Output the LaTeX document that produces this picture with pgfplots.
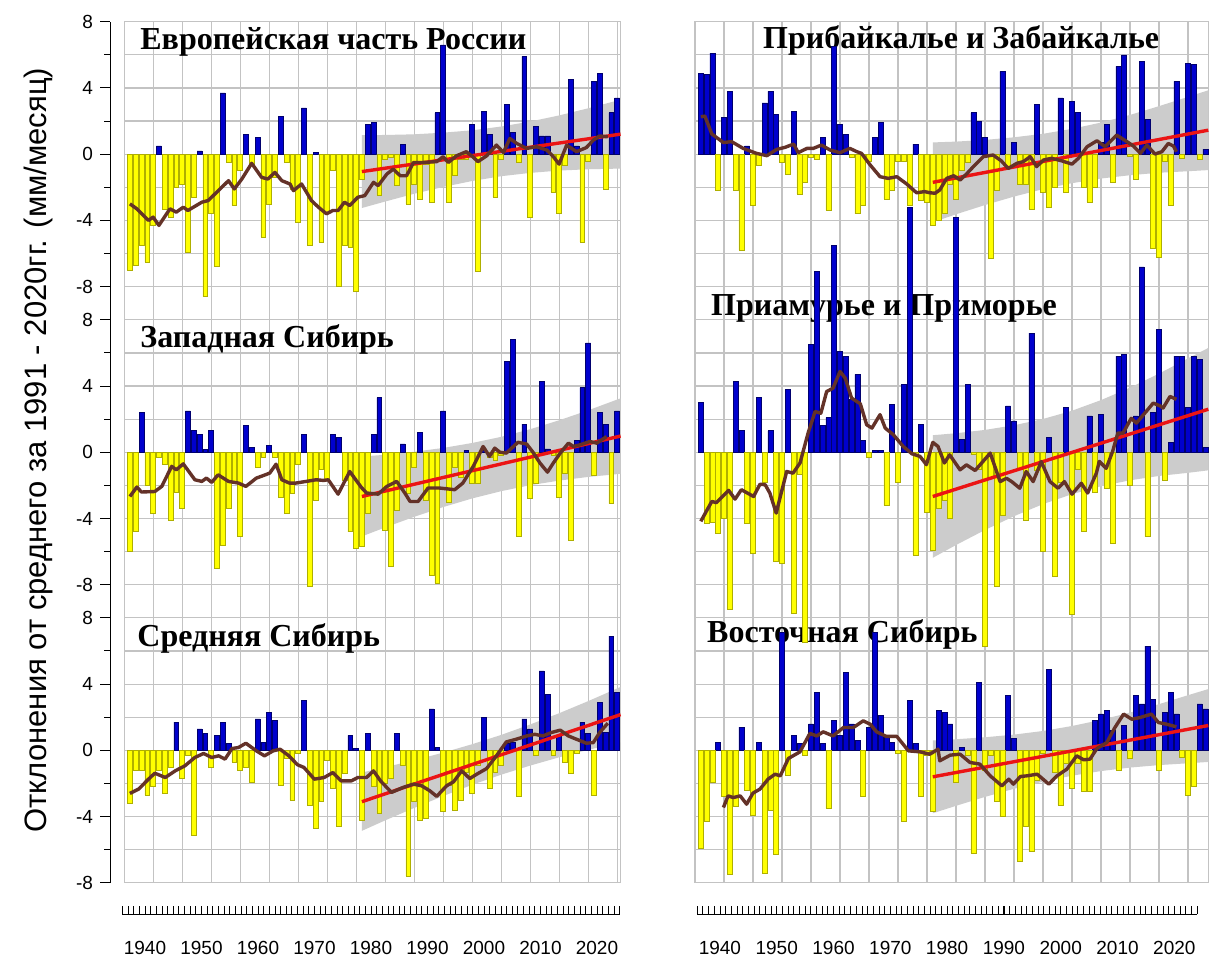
\documentclass[border=0pt]{standalone}
\usepackage{pgfplots}
\pgfplotsset{compat=1.18}
\usepackage{pgfplotstable}
\usepackage{fontspec}
\setmainfont{Liberation Sans}
\newfontfamily\titlefont{Liberation Serif}
\definecolor{barblue}{RGB}{0,0,205}
\definecolor{barbluedk}{RGB}{0,0,110}
\definecolor{baryel}{RGB}{255,255,0}
\definecolor{baryeldk}{RGB}{175,175,0}
\definecolor{bandgray}{RGB}{204,204,204}
\definecolor{gridgray}{RGB}{195,195,195}
\definecolor{trendred}{RGB}{235,20,20}
\definecolor{brownln}{RGB}{100,50,40}

\pgfplotstableread{
year val
1936 -7.0
1937 -6.7
1938 -5.5
1939 -6.5
1940 -4.3
1941 0.5
1942 -3.3
1943 -3.8
1944 -2.0
1945 -1.8
1946 -5.9
1947 -2.6
1948 0.2
1949 -8.6
1950 -3.6
1951 -6.8
1952 3.7
1953 -0.5
1954 -3.1
1955 -1.0
1956 1.2
1957 -0.6
1958 1.0
1959 -5.0
1960 -3.0
1961 -1.4
1962 2.3
1963 -0.5
1964 -2.1
1965 -4.1
1966 2.8
1967 -5.5
1968 0.1
1969 -5.3
1970 -3.6
1971 -1.0
1972 -8.0
1973 -5.5
1974 -5.6
1975 -8.3
1976 -1.5
1977 1.8
1978 1.9
1979 -2.5
1980 -0.3
1981 -0.2
1982 -1.9
1983 0.6
1984 -3.0
1985 -1.8
1986 -2.7
1987 -0.6
1988 -2.9
1989 2.5
1990 6.6
1991 -2.9
1992 -1.3
1993 -0.3
1994 -0.3
1995 1.8
1996 -7.1
1997 2.6
1998 1.2
1999 -2.6
2000 -0.3
2001 3.0
2002 1.3
2003 -0.5
2004 5.9
2005 -3.8
2006 1.7
2007 1.1
2008 1.1
2009 -2.3
2010 -3.6
2011 -0.7
2012 4.5
2013 0.5
2014 -5.3
2015 -0.4
2016 4.4
2017 4.9
2018 -2.1
2019 2.5
2020 3.4
}\dataA

\pgfplotstableread{
year val
1936 -6.0
1937 -4.8
1938 2.4
1939 -2.0
1940 -3.7
1941 -0.3
1942 -0.7
1943 -4.1
1944 -2.4
1945 -3.4
1946 2.5
1947 1.3
1948 1.1
1949 0.15
1950 1.3
1951 -7.0
1952 -5.6
1953 -3.4
1954 -1.8
1955 -5.1
1956 1.6
1957 0.3
1958 -0.9
1959 -0.3
1960 0.4
1961 -0.3
1962 -2.7
1963 -3.7
1964 -2.5
1965 -0.7
1966 1.1
1967 -8.1
1968 -2.9
1969 -1.0
1970 -1.7
1971 1.1
1972 0.9
1973 -1.7
1974 -4.8
1975 -5.8
1976 -5.7
1977 -3.7
1978 1.1
1979 3.3
1980 -4.7
1981 -6.9
1982 -3.5
1983 0.5
1984 -2.5
1985 -0.9
1986 1.2
1987 -2.9
1988 -7.4
1989 -7.9
1990 2.5
1991 -3.0
1992 -0.9
1993 -1.5
1994 0.1
1995 -1.9
1996 -1.9
1997 0.1
1998 -0.3
1999 -0.5
2000 -0.2
2001 5.5
2002 6.8
2003 -5.1
2004 1.7
2005 -2.8
2006 -1.9
2007 4.3
2008 0.2
2009 -0.2
2010 -2.7
2011 -1.3
2012 -5.3
2013 0.7
2014 3.9
2015 6.6
2016 -1.4
2017 2.4
2018 1.7
2019 -3.1
2020 2.5
}\dataB

\pgfplotstableread{
year val
1936 -3.2
1937 -1.2
1938 -1.2
1939 -2.7
1940 -2.2
1941 -1.2
1942 -2.6
1943 -1.0
1944 1.7
1945 -1.7
1946 -0.3
1947 -5.1
1948 1.3
1949 1.0
1950 -1.0
1951 0.9
1952 1.7
1953 0.4
1954 -0.7
1955 -1.2
1956 -1.0
1957 -1.9
1958 1.9
1959 0.5
1960 2.3
1961 1.8
1962 -2.1
1963 -0.5
1964 -3.0
1965 -0.2
1966 3.0
1967 -3.3
1968 -4.7
1969 -3.1
1970 -0.6
1971 -2.3
1972 -4.6
1973 -1.4
1974 0.9
1975 0.1
1976 -4.2
1977 1.0
1978 -2.2
1979 -3.8
1980 -2.0
1981 -1.7
1982 1.0
1983 -0.9
1984 -7.6
1985 -3.1
1986 -4.2
1987 -4.1
1988 2.5
1989 0.2
1990 -3.7
1991 -2.1
1992 -3.6
1993 -3.0
1994 -1.3
1995 -2.6
1996 -0.9
1997 2.0
1998 -2.3
1999 -1.3
2000 -0.9
2001 0.4
2002 0.5
2003 -2.8
2004 1.9
2005 1.3
2006 -0.3
2007 4.8
2008 3.4
2009 -0.3
2010 0.9
2011 -0.7
2012 -1.4
2013 -0.2
2014 1.7
2015 1.0
2016 -2.7
2017 2.9
2018 1.1
2019 6.9
2020 3.5
}\dataC

\pgfplotstableread{
year val
1936 4.9
1937 4.8
1938 6.1
1939 -2.2
1940 2.2
1941 3.8
1942 -2.2
1943 -5.8
1944 0.5
1945 -3.1
1946 -0.7
1947 3.1
1948 3.8
1949 2.4
1950 -0.5
1951 -1.2
1952 2.6
1953 -2.4
1954 -1.7
1955 -0.2
1956 -0.3
1957 1.0
1958 -3.4
1959 6.5
1960 1.8
1961 1.2
1962 -0.2
1963 -3.6
1964 -3.1
1965 -0.4
1966 1.0
1967 1.9
1968 -2.7
1969 -2.2
1970 -0.4
1971 -0.4
1972 -3.1
1973 0.6
1974 -2.8
1975 -2.9
1976 -4.3
1977 -4.0
1978 -3.6
1979 -1.8
1980 -2.7
1981 -1.0
1982 -0.5
1983 2.5
1984 2.0
1985 1.0
1986 -6.3
1987 -2.2
1988 5.0
1989 -0.8
1990 0.7
1991 -1.8
1992 -1.8
1993 -3.3
1994 3.0
1995 -2.3
1996 -3.2
1997 -2.0
1998 3.4
1999 -2.3
2000 3.2
2001 2.5
2002 -2.0
2003 -2.9
2004 -2.0
2005 0.7
2006 1.8
2007 -1.7
2008 5.3
2009 6.0
2010 -0.15
2011 -1.5
2012 5.6
2013 2.1
2014 -5.7
2015 -6.2
2016 -0.45
2017 -3.1
2018 4.4
2019 -0.25
2020 5.5
2021 5.4
2022 -0.3
2023 0.3
}\dataD

\pgfplotstableread{
year val
1936 3.0
1937 -4.3
1938 -4.2
1939 -4.9
1940 -4.0
1941 -9.5
1942 4.3
1943 1.3
1944 -4.3
1945 -6.1
1946 3.3
1947 -1.8
1948 1.3
1949 -6.6
1950 -6.7
1951 3.8
1952 -9.7
1953 -1.3
1954 -11.5
1955 6.5
1956 10.9
1957 1.6
1958 2.1
1959 12.5
1960 6.1
1961 5.8
1962 3.2
1963 4.7
1964 0.7
1965 -0.3
1966 0.1
1967 0.1
1968 -3.2
1969 2.9
1970 -1.8
1971 4.1
1972 14.8
1973 -6.2
1974 1.7
1975 -3.6
1976 -5.9
1977 -3.4
1978 -2.9
1979 -4.0
1980 14.2
1981 0.8
1982 4.1
1983 -0.15
1984 -1.0
1985 -11.7
1986 -1.5
1987 -8.1
1988 -3.8
1989 2.8
1990 1.9
1991 -1.0
1992 -4.1
1993 7.2
1994 -1.1
1995 -6.0
1996 0.9
1997 -7.5
1998 -1.8
1999 2.7
2000 -9.8
2001 -1.0
2002 -4.8
2003 2.2
2004 -2.4
2005 2.3
2006 -2.2
2007 -5.5
2008 5.8
2009 5.9
2010 -2.0
2011 2.2
2012 11.2
2013 -5.1
2014 2.4
2015 7.4
2016 -1.7
2017 0.6
2018 5.8
2019 5.8
2020 2.7
2021 5.8
2022 5.6
2023 0.3
}\dataE

\pgfplotstableread{
year val
1936 -5.9
1937 -4.3
1938 -1.9
1939 0.5
1940 -2.8
1941 -7.5
1942 -3.4
1943 1.4
1944 -2.4
1945 -3.9
1946 0.5
1947 -7.4
1948 -3.6
1949 -6.3
1950 7.1
1951 -1.5
1952 0.9
1953 0.4
1954 -0.3
1955 1.6
1956 3.5
1957 0.4
1958 -3.5
1959 1.8
1960 0.9
1961 4.7
1962 1.6
1963 0.6
1964 -2.8
1965 1.4
1966 7.1
1967 2.1
1968 0.9
1969 0.5
1970 -0.2
1971 -4.3
1972 3.0
1973 0.4
1974 -2.8
1975 -0.3
1976 -3.7
1977 2.4
1978 2.3
1979 1.6
1980 -1.9
1981 0.2
1982 -0.3
1983 -6.2
1984 4.1
1985 -1.2
1986 -0.3
1987 -3.1
1988 -4.0
1989 3.3
1990 0.7
1991 -6.7
1992 -4.6
1993 -6.1
1994 -1.8
1995 -0.2
1996 4.9
1997 -1.3
1998 -3.3
1999 -0.8
2000 -2.3
2001 -0.8
2002 -2.5
2003 -2.5
2004 1.8
2005 2.2
2006 2.4
2007 1.2
2008 -1.2
2009 1.5
2010 -0.5
2011 3.3
2012 2.8
2013 6.3
2014 3.1
2015 -1.2
2016 2.3
2017 3.5
2018 2.2
2019 -0.4
2020 -2.7
2021 -2.2
2022 2.8
2023 2.5
}\dataF

\pgfplotsset{
  panel/.style={x=2.9pt, y=8.28pt, xmin=1935, ymin=-9, ymax=9, hide axis, clip=false, anchor=north west},
  frame/.style={x=2.9pt, y=8.28pt, xmin=1935, ymin=-44, ymax=8, anchor=north west,
    xtick={1935,1940,...,2020}, ytick={-44,-42,...,8}, xticklabels={}, yticklabels={},
    major tick length=0pt, grid=major, grid style={gridgray, line width=0.6pt},
    axis line style={gridgray, line width=0.6pt}},
  bpos/.style={ybar, bar width=0.85, bar shift=0pt, fill=barblue, draw=barbluedk, line width=0.3pt, restrict y to domain=0:40},
  bneg/.style={ybar, bar width=0.85, bar shift=0pt, fill=baryel, draw=baryeldk, line width=0.3pt, restrict y to domain=-40:0},
  band/.style={fill=bandgray, draw=none},
  trend/.style={color=trendred, line width=1.7pt},
  mav/.style={color=brownln, line width=1.7pt, line join=round},
  xruler/.style={anchor=south west, y=1pt, xmin=1936, xmax=2024, ymin=0, ymax=1,
    axis y line=none, axis x line*=bottom,
    xtick={1940,1950,...,2020}, xticklabels={1940,1950,1960,1970,1980,1990,2000,2010,2020},
    minor xtick={1936,...,2024},
    tick align=inside, major tick length=4pt, minor tick length=4pt,
    tick style={black, line width=0.4pt}, axis line style={black, line width=0.5pt},
    xticklabel style={font=\tkf, yshift=-10pt}},
}
\newcommand{\ttl}{\titlefont\bfseries\fontsize{16}{19}\selectfont}
\newcommand{\tkf}{\fontsize{9.5}{11}\selectfont}

\begin{document}
\begin{tikzpicture}
\useasboundingbox (0,0) rectangle (608pt,-478.5pt);
\fill[white] (0,0) rectangle (608pt,-478.5pt);

% grid frames
\begin{axis}[frame, xmax=2020.6, at={(62.05pt,-10.85pt)}]
\end{axis}
\begin{axis}[frame, xmax=2023.6, at={(347.5pt,-10.85pt)}]
\end{axis}

% titles
\node[anchor=base west, inner sep=0pt] at (70pt,-25pt) {\ttl Европейская часть России};
\node[anchor=base west, inner sep=0pt] at (70pt,-173.9pt) {\ttl Западная Сибирь};
\node[anchor=base west, inner sep=0pt] at (68.5pt,-323.4pt) {\ttl Средняя Сибирь};
\node[anchor=base west, inner sep=0pt] at (381.4pt,-24.2pt) {\ttl Прибайкалье и Забайкалье};
\node[anchor=base west, inner sep=0pt] at (355.4pt,-157.5pt) {\ttl Приамурье и Приморье};
\node[anchor=base west, inner sep=0pt] at (353.4pt,-321.4pt) {\ttl Восточная Сибирь};

% ---- left column ----
\begin{axis}[panel, xmax=2020.6, at={(62.05pt,-2.58pt)}]
\addplot[band] coordinates {(1976,1.15)(1980,1.16)(1985,1.20)(1990,1.30)(1995,1.44)(2000,1.67)(2005,1.97)(2010,2.34)(2015,2.77)(2020.6,3.29)
 (2020.6,-0.87)(2015,-0.91)(2010,-0.99)(2005,-1.13)(2000,-1.33)(1995,-1.62)(1990,-1.98)(1985,-2.39)(1980,-2.86)(1976,-3.25)} -- cycle;
\addplot[bpos] table {\dataA};
\addplot[bneg] table {\dataA};
\addplot[trend] coordinates {(1976,-1.05)(2020.6,1.21)};
\addplot[mav] coordinates {(1936,-3.0)(1937.2,-3.3)(1939.2,-4.0)(1940,-3.8)(1941,-4.3)(1942.9,-3.3)(1944,-3.5)(1945.2,-3.2)(1946,-3.4)(1948.4,-2.9)(1949.5,-2.8)(1953,-1.6)(1954,-2.1)(1955.3,-1.5)(1957,-0.55)(1958.7,-1.4)(1959.8,-1.5)(1961,-1.1)(1962.2,-1.6)(1963.6,-1.8)(1964.2,-2.2)(1965.6,-1.8)(1967.3,-2.8)(1968.5,-3.2)(1969.9,-3.6)(1971,-3.4)(1971.9,-3.4)(1973,-2.9)(1973.9,-3.1)(1975.3,-2.6)(1976.5,-2.5)(1978,-1.7)(1978.8,-1.9)(1980.3,-1.2)(1981.4,-0.9)(1982.6,-1.3)(1983.7,-1.3)(1984.9,-0.5)(1986.6,-0.5)(1988.9,-0.45)(1990,-0.15)(1990.9,-0.5)(1992.3,-0.1)(1994,0.15)(1995.1,-0.15)(1996,-0.45)(1997.5,-0.1)(1999.2,0.55)(2000.4,0.1)(2001.5,0.95)(2002.7,0.65)(2004.4,0.35)(2006.1,0.45)(2007.9,0.25)(2009,-0.15)(2010,-0.6)(2011.3,0.55)(2013,0.15)(2014.7,0.4)(2015.9,0.85)(2017,1.1)(2018.4,1.05)};
\end{axis}

\begin{axis}[panel, xmax=2020.6, at={(62.05pt,-151.62pt)}]
\addplot[band] coordinates {(1976,-0.26)(1980,-0.15)(1985,0.03)(1990,0.26)(1995,0.56)(2000,0.93)(2005,1.39)(2010,1.93)(2015,2.53)(2020.6,3.26)
 (2020.6,-1.30)(2015,-1.49)(2010,-1.71)(2005,-1.99)(2000,-2.35)(1995,-2.79)(1990,-3.31)(1985,-3.90)(1980,-4.54)(1976,-5.08)} -- cycle;
\addplot[bpos] table {\dataB};
\addplot[bneg] table {\dataB};
\addplot[trend] coordinates {(1976,-2.67)(2020.6,0.98)};
\addplot[mav] coordinates {(1936,-2.67)(1937.2,-2.1)(1938,-2.4)(1940.3,-2.37)(1941.5,-2.06)(1943.2,-0.85)(1944,-1.06)(1945.2,-0.7)(1947.2,-1.66)(1948.4,-1.76)(1949.2,-1.56)(1950.1,-1.82)(1951.2,-1.36)(1953,-1.76)(1954.7,-1.86)(1956,-2.06)(1957.8,-1.56)(1958.9,-1.42)(1960.1,-1.26)(1961.2,-0.72)(1962.2,-1.66)(1963.5,-1.86)(1964.6,-1.86)(1966.4,-1.76)(1968.1,-1.66)(1969.4,-1.7)(1970.2,-1.66)(1971.9,-2.53)(1973.9,-1.16)(1975.9,-2.12)(1976.8,-2.46)(1978.8,-2.53)(1980.3,-2.06)(1982,-1.76)(1983.4,-2.46)(1984.3,-2.97)(1985.7,-2.97)(1987.4,-2.16)(1989.4,-2.16)(1992,-2.26)(1993.4,-1.86)(1995.2,-0.85)(1996.9,0.35)(1998,-0.25)(1998.9,0.25)(1999.8,0)(2000.9,-0.05)(2002.9,0.6)(2004.4,0.5)(2005.5,0)(2006.7,-0.65)(2008,-1.2)(2009,-0.65)(2010.2,-0.05)(2011.6,0.55)(2012.5,0.35)(2013.6,0.45)(2015.3,0.65)(2016.5,0.55)(2018.2,0.95)};
\end{axis}

\begin{axis}[panel, xmax=2020.6, at={(62.05pt,-300.66pt)}]
\addplot[band] coordinates {(1976,-1.34)(1980,-1.02)(1985,-0.60)(1990,-0.14)(1995,0.37)(2000,0.93)(2005,1.56)(2010,2.24)(2015,2.97)(2020.6,3.83)
 (2020.6,0.49)(2015,0.03)(2010,-0.42)(2005,-0.92)(2000,-1.47)(1995,-2.08)(1990,-2.76)(1985,-3.48)(1980,-4.23)(1976,-4.86)} -- cycle;
\addplot[bpos] table {\dataC};
\addplot[bneg] table {\dataC};
\addplot[trend] coordinates {(1976,-3.1)(2020.6,2.16)};
\addplot[mav] coordinates {(1936,-2.6)(1937.5,-2.34)(1939.2,-1.74)(1940.3,-1.38)(1942.1,-1.64)(1943.8,-1.24)(1945.5,-0.93)(1947.2,-0.43)(1948.7,-0.19)(1950.1,-0.43)(1951.3,-0.33)(1952.4,-0.53)(1953.6,0.11)(1954.7,0.17)(1956,0.43)(1957.8,-0.03)(1959.2,-0.33)(1960.7,-0.03)(1961.9,0.07)(1963.4,-0.33)(1964.9,-0.87)(1966,-1.03)(1967.8,-1.74)(1969.5,-1.64)(1971,-1.34)(1972.4,-1.84)(1974.2,-1.84)(1975.3,-1.64)(1976.8,-1.64)(1978,-1.24)(1979.2,-1.84)(1981.1,-2.54)(1983.1,-2.24)(1984.9,-2.04)(1986.3,-2.14)(1987.7,-2.44)(1988.9,-2.78)(1990.6,-2.14)(1991.8,-1.9)(1993.2,-1.24)(1994.6,-1.7)(1995.8,-1.44)(1997.5,-1.1)(1999.2,-0.33)(2000.9,0.51)(2002.6,0.67)(2004.4,0.87)(2005.8,0.97)(2007.2,0.87)(2008.7,1.08)(2010.2,1.22)(2011.6,0.87)(2013,0.67)(2014.7,0.43)(2015.9,0.47)(2017,1.08)(2018.4,1.64)};
\end{axis}

% ---- right column ----
\begin{axis}[panel, xmax=2023.6, at={(347.5pt,-2.58pt)}]
\addplot[band] coordinates {(1976,0.71)(1980,0.76)(1985,0.86)(1990,1.02)(1995,1.23)(2000,1.53)(2005,1.91)(2010,2.37)(2015,2.90)(2020,3.46)(2023.5,3.86)
 (2023.5,-0.96)(2020,-1.03)(2015,-1.12)(2010,-1.27)(2005,-1.47)(2000,-1.75)(1995,-2.11)(1990,-2.56)(1985,-3.07)(1980,-3.63)(1976,-4.11)} -- cycle;
\addplot[bpos] table {\dataD};
\addplot[bneg] table {\dataD};
\addplot[trend] coordinates {(1976,-1.7)(2023.5,1.45)};
\addplot[mav] coordinates {(1936,2.26)(1936.7,2.3)(1937.9,1.22)(1939.9,0.7)(1941.3,0.76)(1943.3,0.35)(1945.6,0.05)(1947.4,-0.09)(1949.1,0.29)(1950.5,0.41)(1952,0.61)(1952.8,0.09)(1954.3,0.35)(1955.4,0.35)(1956.8,0.55)(1958.3,0.25)(1960,0.09)(1961.7,0.35)(1962.9,0.15)(1963.7,0.05)(1965.2,-0.65)(1966.9,-1.36)(1968.3,-1.46)(1969.8,-1.36)(1971.5,-1.8)(1973.2,-2.33)(1974.6,-2.26)(1975.5,-2.33)(1976.4,-2.36)(1977.2,-2.16)(1978.4,-1.46)(1979.6,-1.3)(1980.7,-1.56)(1981.8,-1.2)(1983,-0.75)(1984.7,-0.15)(1986.4,-0.05)(1987.8,-0.4)(1989,-0.86)(1990.5,-0.55)(1991.6,-0.45)(1992.8,-0.15)(1993.9,-0.75)(1995.1,-0.35)(1996.5,-0.25)(1998.2,-0.4)(2000,-0.6)(2001.1,-0.25)(2002.6,0.45)(2004.3,0.81)(2005.7,0.45)(2007.7,1.15)(2009.5,0.75)(2010.6,0.49)(2011.8,0.05)(2012.9,0.55)(2014.3,0.01)(2015.5,0.15)(2016.6,0.65)(2017.5,0.49)(2018,0.15)};
\end{axis}

\begin{axis}[panel, xmax=2023.6, at={(347.5pt,-151.62pt)}]
\addplot[band] coordinates {(1976,1.03)(1980,1.15)(1985,1.35)(1990,1.63)(1995,2.01)(2000,2.51)(2005,3.15)(2010,3.90)(2015,4.75)(2020,5.67)(2023.5,6.30)
 (2023.5,-1.09)(2020,-1.24)(2015,-1.43)(2010,-1.69)(2005,-2.05)(2000,-2.53)(1995,-3.13)(1990,-3.86)(1985,-4.69)(1980,-5.60)(1976,-6.37)} -- cycle;
\addplot[bpos] table {\dataE};
\addplot[bneg] table {\dataE};
\addplot[trend] coordinates {(1976,-2.67)(2023.5,2.6)};
\addplot[mav] coordinates {(1936,-4.17)(1937.1,-3.47)(1937.9,-2.97)(1938.7,-3.04)(1940.8,-2.3)(1941.9,-2.83)(1943,-2.26)(1945.1,-2.67)(1946.2,-1.93)(1947.1,-1.96)(1947.9,-2.46)(1949,-3.67)(1950.8,-1.16)(1951.9,-1.26)(1953.1,-0.65)(1954.5,1.16)(1955.7,2.46)(1956.7,2.36)(1957.7,3.67)(1958.8,3.87)(1960,4.88)(1960.9,4.48)(1962,3.27)(1963.5,2.93)(1964.6,1.66)(1965.5,1.46)(1966.9,2.27)(1967.8,1.46)(1969.2,1.06)(1970.9,0.35)(1972.4,-0.09)(1973.8,-0.25)(1974.9,-0.75)(1976,0.6)(1976.9,0.35)(1978,-0.65)(1978.9,-0.15)(1980.7,-1.06)(1981.8,-0.76)(1983.3,-1.1)(1985.9,-0.05)(1987.6,-1.77)(1988.7,-1.57)(1989.6,-1.77)(1991,-2.17)(1992.1,-1.16)(1993.3,-1.77)(1994.7,-0.56)(1996.2,-1.77)(1997.6,-2.17)(1998.7,-1.77)(2000,-2.53)(2001.6,-1.87)(2002.7,-2.46)(2004.2,-1.26)(2004.7,-0.55)(2005.9,-0.97)(2007,0.05)(2007.9,1.16)(2008.8,1.16)(2010.2,2.05)(2011.1,1.76)(2012.3,2.26)(2014,2.97)(2015.2,2.8)(2015.7,2.67)(2016.9,3.37)(2018,3.2)};
\end{axis}

\begin{axis}[panel, xmax=2023.6, at={(347.5pt,-300.66pt)}]
\addplot[band] coordinates {(1976,0.60)(1980,0.67)(1985,0.79)(1990,0.95)(1995,1.17)(2000,1.47)(2005,1.84)(2010,2.28)(2015,2.79)(2020,3.33)(2023.5,3.70)
 (2023.5,-0.70)(2020,-0.78)(2015,-0.89)(2010,-1.04)(2005,-1.25)(2000,-1.53)(1995,-1.89)(1990,-2.32)(1985,-2.81)(1980,-3.35)(1976,-3.80)} -- cycle;
\addplot[bpos] table {\dataF};
\addplot[bneg] table {\dataF};
\addplot[trend] coordinates {(1976,-1.6)(2023.5,1.5)};
\addplot[mav] coordinates {(1939.9,-3.45)(1940.7,-2.75)(1941.6,-2.85)(1942.8,-2.75)(1943.9,-3.25)(1945,-2.58)(1946.2,-2.34)(1947.6,-1.74)(1948.8,-1.44)(1949.7,-1.54)(1951.1,-0.49)(1953.1,-0.09)(1954.8,1.02)(1956,0.87)(1957.1,1.12)(1958.8,0.87)(1960.6,1.38)(1962.3,1.38)(1964,1.78)(1965.2,1.58)(1966.3,1.12)(1968,0.84)(1969.8,0.84)(1971.8,-0.03)(1973.8,-0.09)(1975.5,-0.23)(1976.9,0.07)(1977.2,-0.63)(1979,-0.29)(1980.7,-0.23)(1982.4,-0.73)(1984.1,-0.83)(1985.9,-1.54)(1987.9,-2.14)(1989.1,-1.74)(1989.9,-2.04)(1991.1,-1.58)(1992.2,-1.54)(1994,-1.44)(1996,-2.04)(1997.4,-1.54)(1999.1,-1.14)(2000.8,-0.33)(2002,-0.57)(2003.1,-0.53)(2004.3,0.11)(2006,0.47)(2007.4,1.38)(2008.9,2.19)(2010.3,1.88)(2011.7,1.98)(2013.7,2.19)(2014.9,1.68)(2016.3,1.58)(2018,1.42)};
\end{axis}

% ---- y ruler ----
\begin{axis}[at={(55pt,-10.85pt)}, anchor=north west, x=1pt, y=8.28pt, xmin=0, xmax=1, ymin=-44, ymax=8,
  axis x line=none, axis y line*=left,
  ytick={8,4,0,-4,-8,-10,-14,-18,-22,-26,-28,-32,-36,-40,-44},
  yticklabels={8,4,0,-4,-8,8,4,0,-4,-8,8,4,0,-4,-8},
  minor ytick={6,2,-2,-6,-12,-16,-20,-24,-30,-34,-38,-42},
  tick align=outside, major tick length=5pt, minor tick length=3pt,
  tick style={black, line width=0.5pt}, axis line style={black, line width=0.5pt},
  yticklabel style={font=\tkf}]
\end{axis}

% ---- x rulers ----
\begin{axis}[xruler, at={(61.2pt,-457pt)}, x=2.825pt]
\end{axis}
\begin{axis}[xruler, at={(348.6pt,-457pt)}, x=2.84pt]
\end{axis}

\node[rotate=90, font=\fontsize{15.5}{18}\selectfont] at (19pt,-225pt) {Отклонения от среднего за 1991 - 2020гг. (мм/месяц)};
\end{tikzpicture}
\end{document}
